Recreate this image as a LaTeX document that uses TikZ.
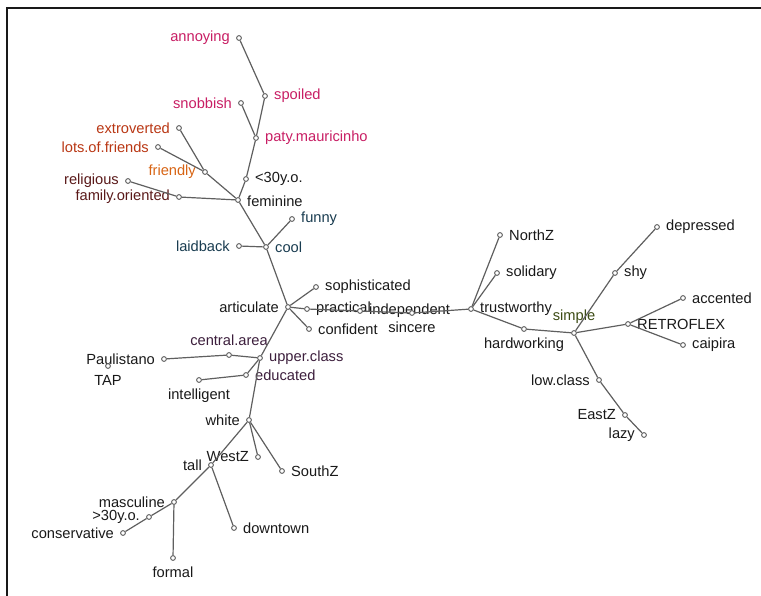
\documentclass[tikz,border=0pt]{standalone}
\usepackage{fontspec}
\setmainfont{Liberation Sans}
\definecolor{ink}{RGB}{25,25,25}
\definecolor{mag}{RGB}{200,30,100}
\definecolor{rust}{RGB}{185,55,20}
\definecolor{amber}{RGB}{215,100,20}
\definecolor{maroon}{RGB}{90,25,25}
\definecolor{slate}{RGB}{25,60,80}
\definecolor{plum}{RGB}{60,30,60}
\definecolor{olive}{RGB}{60,75,20}
\definecolor{wire}{RGB}{95,95,95}

\begin{document}
\begin{tikzpicture}[x=0.75pt,y=-0.75pt,
  pt/.style={draw=wire, circle, fill=white, inner sep=0pt, minimum size=3.6pt, line width=0.7pt},
  edge/.style={draw=wire, line width=0.9pt},
  label distance=1.2pt,
  every label/.style={text=ink, font=\fontsize{11}{13}\selectfont}]
\useasboundingbox (0,0) rectangle (761,596);
\draw[line width=1.4pt, draw=ink] (7,596) -- (7,8) -- (761,8);
% upper branch
\node[pt, label={[text=mag]left:annoying}] (annoying) at (239,38) {};
\node[pt, label={[text=mag]right:spoiled}] (spoiled) at (265,96) {};
\node[pt, label={[text=mag]left:snobbish}] (snobbish) at (241,103) {};
\node[pt, label={[text=mag]right:paty.mauricinho}] (paty) at (256,138) {};
\node[pt, label={[text=rust]left:extroverted}] (extro) at (179,128) {};
\node[pt, label={[text=rust]left:lots.of.friends}] (lots) at (158,147) {};
\node[pt, label={[text=amber]left:friendly}] (friendly) at (205,172) {};
\node[pt, label={right:<30y.o.}] (young) at (246,179) {};
\node[pt, label={[text=maroon]left:religious}] (relig) at (128,181) {};
\node[pt, label={[text=maroon]left:family.oriented}] (family) at (179,197) {};
\node[pt, label={[yshift=-1pt]right:feminine}] (femin) at (238,200) {};
\node[pt, label={[text=slate]right:funny}] (funny) at (292,219) {};
\node[pt, label={[text=slate]left:laidback}] (laid) at (239,246) {};
\node[pt, label={[text=slate]right:cool}] (cool) at (266,247) {};
% middle
\node[pt, label={right:sophisticated}] (soph) at (316,287) {};
\node[pt, label={left:articulate}] (artic) at (288,307) {};
\node[pt, label={right:practical}] (pract) at (307,309) {};
\node[pt, label={right:independent}] (indep) at (360,311) {};
\node[pt, label={below:sincere}] (sincere) at (412,313) {};
\node[pt, label={right:confident}] (confid) at (309,329) {};
% right branch
\node[pt, label={right:trustworthy}] (trust) at (471,309) {};
\node[pt, label={right:NorthZ}] (northz) at (500,235) {};
\node[pt, label={right:solidary}] (solid) at (497,273) {};
\node[pt, label={below:hardworking}] (hardw) at (524,329) {};
\node[pt, label={[text=olive]above:simple}] (simple) at (574,333) {};
\node[pt, label={right:shy}] (shy) at (615,273) {};
\node[pt, label={right:depressed}] (depr) at (657,227) {};
\node[pt, label={right:RETROFLEX}] (retro) at (628,324) {};
\node[pt, label={right:accented}] (accent) at (683,298) {};
\node[pt, label={right:caipira}] (caipira) at (683,345) {};
\node[pt, label={left:low.class}] (lowcl) at (599,380) {};
\node[pt, label={left:EastZ}] (eastz) at (625,415) {};
\node[pt, label={left:lazy}] (lazy) at (644,435) {};
% lower branch
\node[pt, label={[text=plum]above:central.area}] (central) at (229,355) {};
\node[pt, label={[text=plum]right:upper.class}] (upper) at (260,358) {};
\node[pt, label={left:Paulistano}] (paulis) at (164,359) {};
\node[pt, label={below:TAP}] (tap) at (108,366) {};
\node[pt, label={[text=plum]right:educated}] (educ) at (246,375) {};
\node[pt, label={below:intelligent}] (intel) at (199,380) {};
\node[pt, label={left:white}] (white) at (249,420) {};
\node[pt, label={left:WestZ}] (westz) at (258,457) {};
\node[pt, label={left:tall}] (tall) at (211,465) {};
\node[pt, label={right:SouthZ}] (southz) at (282,471) {};
\node[pt, label={left:masculine}] (mascul) at (174,502) {};
\node[pt, label={left:>30y.o.}] (older) at (149,517) {};
\node[pt, label={left:conservative}] (conserv) at (123,533) {};
\node[pt, label={right:downtown}] (downt) at (234,528) {};
\node[pt, label={below:formal}] (formal) at (173,558) {};
% connectors
\draw[edge] (annoying) -- (spoiled);
\draw[edge] (spoiled) -- (paty);
\draw[edge] (snobbish) -- (paty);
\draw[edge] (paty) -- (young);
\draw[edge] (young) -- (femin);
\draw[edge] (extro) -- (friendly);
\draw[edge] (lots) -- (friendly);
\draw[edge] (friendly) -- (femin);
\draw[edge] (relig) -- (family);
\draw[edge] (family) -- (femin);
\draw[edge] (femin) -- (cool);
\draw[edge] (cool) -- (funny);
\draw[edge] (cool) -- (laid);
\draw[edge] (cool) -- (artic);
\draw[edge] (artic) -- (soph);
\draw[edge] (artic) -- (pract);
\draw[edge] (artic) -- (confid);
\draw[edge] (pract) -- (indep);
\draw[edge] (indep) -- (sincere);
\draw[edge] (sincere) -- (trust);
\draw[edge] (trust) -- (northz);
\draw[edge] (trust) -- (solid);
\draw[edge] (trust) -- (hardw);
\draw[edge] (hardw) -- (simple);
\draw[edge] (simple) -- (shy);
\draw[edge] (shy) -- (depr);
\draw[edge] (simple) -- (retro);
\draw[edge] (retro) -- (accent);
\draw[edge] (retro) -- (caipira);
\draw[edge] (simple) -- (lowcl);
\draw[edge] (lowcl) -- (eastz);
\draw[edge] (eastz) -- (lazy);
\draw[edge] (artic) -- (upper);
\draw[edge] (upper) -- (central);
\draw[edge] (central) -- (paulis);
\draw[edge] (upper) -- (educ);
\draw[edge] (educ) -- (intel);
\draw[edge] (upper) -- (white);
\draw[edge] (white) -- (westz);
\draw[edge] (white) -- (southz);
\draw[edge] (white) -- (tall);
\draw[edge] (tall) -- (downt);
\draw[edge] (tall) -- (mascul);
\draw[edge] (mascul) -- (older);
\draw[edge] (older) -- (conserv);
\draw[edge] (mascul) -- (formal);
\end{tikzpicture}
\end{document}
